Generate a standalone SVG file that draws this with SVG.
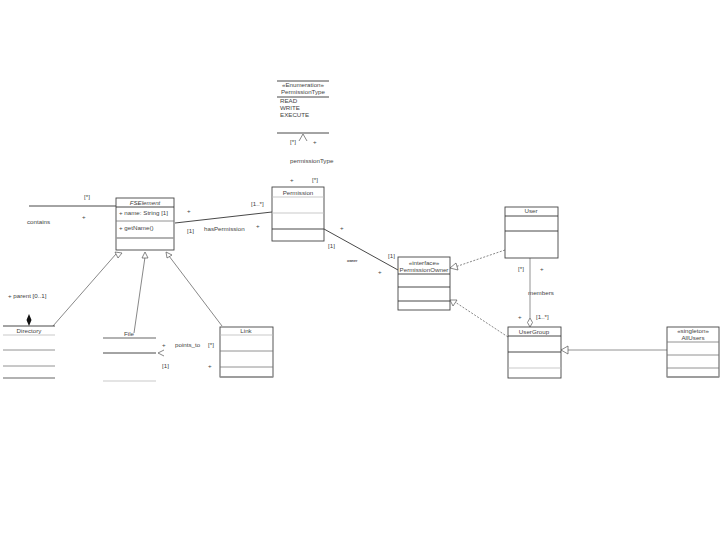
<svg xmlns="http://www.w3.org/2000/svg" width="720" height="540" viewBox="0 0 720 540">
<defs>
<style>
.t{font-family:"Liberation Sans",Arial,sans-serif;font-size:6.2px;fill:#444}
.c{text-anchor:middle}
.bx{fill:#fff;stroke:#444;stroke-width:0.9}
.dk{stroke:#333;stroke-width:0.9}
.lt{stroke:#bbb;stroke-width:0.8}
.md{stroke:#777;stroke-width:0.8}
.th{stroke:#999;stroke-width:1.6}
.as{fill:none;stroke:#333;stroke-width:0.9}
.gn{fill:none;stroke:#555;stroke-width:0.7}
.dsh{fill:none;stroke:#555;stroke-width:0.7;stroke-dasharray:2,1.5}
.tri{fill:#fff;stroke:#555;stroke-width:0.7}
</style>
</defs>
<g id="connectors">
<line class="as" x1="29" y1="206" x2="116" y2="206"/>
<line class="as" x1="175" y1="223" x2="272" y2="212"/>
<line class="as" x1="324" y1="229" x2="398" y2="270"/>
<path class="gn" d="M299,141 L303,134 L307,141"/>
<line class="gn" x1="53" y1="326" x2="116" y2="254"/>
<path class="tri" d="M115,252 L122,253 L118,258 Z"/>
<line class="gn" x1="134" y1="333" x2="145" y2="257"/>
<path class="tri" d="M145,252 L148,258 L142,258 Z"/>
<line class="gn" x1="222" y1="326" x2="169" y2="256"/>
<path class="tri" d="M166,252 L172,255 L167,258 Z"/>
<path class="gn" d="M164,350 L158,353 L164,356"/>
<line class="dsh" x1="505" y1="250" x2="455" y2="267"/>
<path class="tri" d="M450,268 L456,263 L458,270 Z"/>
<line class="dsh" x1="508" y1="337" x2="455" y2="302"/>
<path class="tri" d="M450,300 L457,300 L453,306 Z"/>
<line class="md" x1="530" y1="258" x2="530" y2="318"/>
<path class="tri" d="M530,318 L532.5,322.5 L530,327 L527.5,322.5 Z"/>
<line class="md" x1="667" y1="350" x2="568" y2="350"/>
<path class="tri" d="M561,350 L568,346 L568,354 Z"/>
<path d="M29,314 L31.5,320 L29,326 L26.5,320 Z" fill="#111"/>
</g>
<g id="PermissionType">
<line class="dk" x1="277" y1="81" x2="329" y2="81"/>
<text class="t c" x="303" y="87">«Enumeration»</text>
<text class="t c" x="303" y="94">PermissionType</text>
<line class="dk" x1="277" y1="97" x2="329" y2="97"/>
<text class="t" x="280" y="103">READ</text>
<text class="t" x="280" y="110">WRITE</text>
<text class="t" x="280" y="117">EXECUTE</text>
<line class="dk" x1="277" y1="133" x2="329" y2="133"/>
</g>
<g id="FSElement">
<rect class="bx" x="116" y="198" width="58" height="52"/>
<text class="t c" x="145" y="205" font-style="italic">FSElement</text>
<line class="dk" x1="116" y1="207" x2="174" y2="207"/>
<text class="t" x="119" y="215">+ name: String [1]</text>
<line class="md" x1="116" y1="221" x2="174" y2="221"/>
<text class="t" x="119" y="230">+ getName()</text>
<line class="th" x1="116" y1="238" x2="174" y2="238"/>
</g>
<g id="Permission">
<rect class="bx" x="272" y="187" width="52" height="54"/>
<text class="t c" x="298" y="195">Permission</text>
<line class="lt" x1="272" y1="197" x2="324" y2="197"/>
<line class="lt" x1="272" y1="213" x2="324" y2="213"/>
<line class="dk" x1="272" y1="229" x2="324" y2="229"/>
</g>
<g id="PermissionOwner">
<rect class="bx" x="398" y="257" width="52" height="53"/>
<text class="t c" x="424" y="265">«interface»</text>
<text class="t c" x="424" y="272">PermissionOwner</text>
<line class="dk" x1="398" y1="274" x2="450" y2="274"/>
<line class="dk" x1="398" y1="287" x2="450" y2="287"/>
<line class="dk" x1="398" y1="301" x2="450" y2="301"/>
</g>
<g id="User">
<rect class="bx" x="505" y="207" width="53" height="51"/>
<text class="t c" x="531" y="213">User</text>
<line class="dk" x1="505" y1="216" x2="558" y2="216"/>
<line class="dk" x1="505" y1="231" x2="558" y2="231"/>
</g>
<g id="UserGroup">
<rect class="bx" x="508" y="327" width="53" height="51"/>
<text class="t c" x="534" y="334">UserGroup</text>
<line class="dk" x1="508" y1="336" x2="561" y2="336" stroke-width="1.3"/>
<line class="dk" x1="508" y1="352" x2="561" y2="352"/>
<line class="lt" x1="508" y1="368" x2="561" y2="368"/>
</g>
<g id="AllUsers">
<rect class="bx" x="667" y="327" width="52" height="50"/>
<text class="t c" x="693" y="333">«singleton»</text>
<text class="t c" x="693" y="340">AllUsers</text>
<line class="md" x1="667" y1="342" x2="719" y2="342"/>
<line class="md" x1="667" y1="355" x2="719" y2="355"/>
<line class="md" x1="667" y1="368" x2="719" y2="368"/>
<line class="th" x1="667" y1="377" x2="719" y2="377"/>
</g>
<g id="Directory">
<line class="dk" x1="3" y1="326" x2="55" y2="326"/>
<text class="t c" x="29" y="333">Directory</text>
<line class="lt" x1="3" y1="335" x2="55" y2="335"/>
<line class="md" x1="3" y1="350" x2="55" y2="350"/>
<line class="md" x1="3" y1="366" x2="55" y2="366"/>
<line class="th" x1="3" y1="378" x2="55" y2="378"/>
</g>
<g id="File">
<text class="t c" x="129" y="336">File</text>
<line class="th" x1="103" y1="338" x2="156" y2="338"/>
<line class="dk" x1="103" y1="353" x2="156" y2="353"/>
<line class="lt" x1="103" y1="381" x2="156" y2="381"/>
</g>
<g id="Link">
<rect class="bx" x="220" y="327" width="53" height="50"/>
<text class="t c" x="246" y="333">Link</text>
<line class="lt" x1="220" y1="335" x2="273" y2="335"/>
<line class="md" x1="220" y1="351" x2="273" y2="351"/>
<line class="md" x1="220" y1="367" x2="273" y2="367"/>
<line class="th" x1="220" y1="377" x2="273" y2="377"/>
</g>
<g id="labels">
<text class="t" x="84" y="199">[*]</text>
<text class="t" x="82" y="219">+</text>
<text class="t" x="27" y="224">contains</text>
<text class="t" x="187" y="213">+</text>
<text class="t" x="187" y="233">[1]</text>
<text class="t" x="204" y="231">hasPermission</text>
<text class="t" x="251" y="206">[1..*]</text>
<text class="t" x="256" y="228">+</text>
<text class="t" x="290" y="144">[*]</text>
<text class="t" x="313" y="144">+</text>
<text class="t" x="290" y="163">permissionType</text>
<text class="t" x="290" y="182">+</text>
<text class="t" x="312" y="182">[*]</text>
<text class="t" x="340" y="230">+</text>
<text class="t" x="328" y="248">[1]</text>
<text class="t" x="388" y="258">[1]</text>
<text class="t" x="347" y="262" style="font-size:3.5px;font-weight:bold">owner</text>
<text class="t" x="378" y="274">+</text>
<text class="t" x="518" y="271">[*]</text>
<text class="t" x="540" y="271">+</text>
<text class="t" x="528" y="295">members</text>
<text class="t" x="518" y="319">+</text>
<text class="t" x="536" y="319">[1..*]</text>
<text class="t" x="8" y="298">+ parent [0..1]</text>
<text class="t" x="162" y="347">+</text>
<text class="t" x="175" y="347">points_to</text>
<text class="t" x="208" y="347">[*]</text>
<text class="t" x="162" y="368">[1]</text>
<text class="t" x="208" y="368">+</text>
</g>
</svg>
